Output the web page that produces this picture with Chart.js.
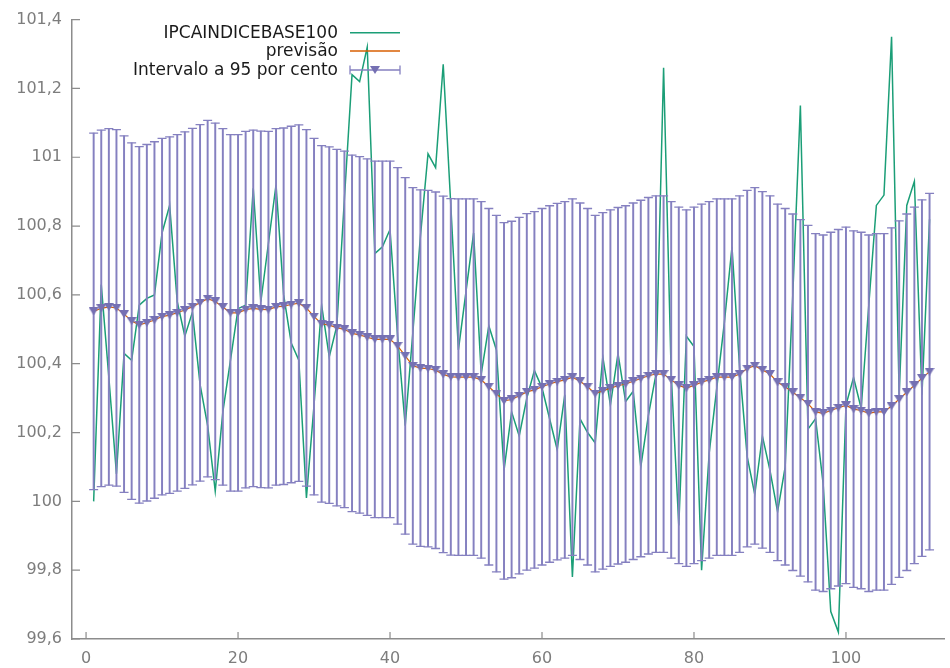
<!DOCTYPE html>
<html>
<head>
<meta charset="utf-8">
<script src="https://cdn.jsdelivr.net/npm/chart.js@4.4.0/dist/chart.umd.min.js"></script>
<style>
  html, body { margin: 0; padding: 0; background: #fff; }
  #wrap { width: 950px; height: 668px; }
</style>
</head>
<body>
<div id="wrap"><canvas id="forecastChart" width="950" height="668"></canvas></div>
<script>
// =====================
// Data
// =====================
const obs = [
  1, 2, 3, 4, 5, 6, 7, 8, 9, 10,
  11, 12, 13, 14, 15, 16, 17, 18, 19, 20,
  21, 22, 23, 24, 25, 26, 27, 28, 29, 30,
  31, 32, 33, 34, 35, 36, 37, 38, 39, 40,
  41, 42, 43, 44, 45, 46, 47, 48, 49, 50,
  51, 52, 53, 54, 55, 56, 57, 58, 59, 60,
  61, 62, 63, 64, 65, 66, 67, 68, 69, 70,
  71, 72, 73, 74, 75, 76, 77, 78, 79, 80,
  81, 82, 83, 84, 85, 86, 87, 88, 89, 90,
  91, 92, 93, 94, 95, 96, 97, 98, 99, 100,
  101, 102, 103, 104, 105, 106, 107, 108, 109, 110,
  111
];

const ipca = [
  100.00, 100.63, 100.36, 100.08, 100.43, 100.41, 100.57, 100.59, 100.60, 100.78,
  100.86, 100.58, 100.48, 100.55, 100.34, 100.22, 100.03, 100.26, 100.41, 100.56,
  100.57, 100.91, 100.58, 100.75, 100.92, 100.60, 100.46, 100.41, 100.01, 100.28,
  100.57, 100.42, 100.51, 100.88, 101.24, 101.22, 101.32, 100.72, 100.74, 100.79,
  100.48, 100.22, 100.49, 100.77, 101.01, 100.97, 101.27, 100.86, 100.44, 100.61,
  100.78, 100.37, 100.51, 100.44, 100.09, 100.26, 100.19, 100.30, 100.38, 100.33,
  100.24, 100.15, 100.31, 99.78, 100.24, 100.20, 100.17, 100.42, 100.28, 100.43,
  100.29, 100.32, 100.10, 100.25, 100.37, 101.26, 100.37, 99.93, 100.48, 100.45,
  99.80, 100.14, 100.33, 100.52, 100.74, 100.39, 100.13, 100.02, 100.19, 100.09,
  99.97, 100.10, 100.60, 101.15, 100.21, 100.24, 100.05, 99.68, 99.62, 100.28,
  100.36, 100.27, 100.57, 100.86, 100.89, 101.35, 100.31, 100.86, 100.93, 100.31,
  100.82
];

const previsao = [
  100.552, 100.561, 100.565, 100.562, 100.544, 100.524, 100.513, 100.519, 100.527, 100.537,
  100.541, 100.548, 100.556, 100.566, 100.577, 100.589, 100.581, 100.565, 100.548, 100.548,
  100.557, 100.561, 100.558, 100.557, 100.565, 100.567, 100.572, 100.576, 100.562, 100.537,
  100.516, 100.512, 100.505, 100.500, 100.488, 100.484, 100.477, 100.471, 100.471, 100.471,
  100.452, 100.423, 100.394, 100.387, 100.386, 100.381, 100.369, 100.362, 100.361, 100.361,
  100.361, 100.353, 100.333, 100.313, 100.292, 100.296, 100.307, 100.318, 100.324, 100.333,
  100.341, 100.348, 100.353, 100.361, 100.349, 100.333, 100.313, 100.321, 100.329, 100.336,
  100.341, 100.349, 100.357, 100.365, 100.370, 100.370, 100.353, 100.337, 100.329, 100.337,
  100.346, 100.353, 100.361, 100.361, 100.361, 100.370, 100.386, 100.394, 100.382, 100.370,
  100.346, 100.333, 100.317, 100.301, 100.284, 100.260, 100.256, 100.264, 100.272, 100.279,
  100.268, 100.264, 100.256, 100.260, 100.260, 100.277, 100.297, 100.317, 100.337, 100.358,
  100.377
];

const upper95 = [
  101.070, 101.079, 101.083, 101.080, 101.062, 101.042, 101.031, 101.037, 101.045, 101.055,
  101.059, 101.066, 101.074, 101.084, 101.095, 101.107, 101.099, 101.083, 101.066, 101.066,
  101.075, 101.079, 101.076, 101.075, 101.083, 101.085, 101.090, 101.094, 101.080, 101.055,
  101.034, 101.030, 101.023, 101.018, 101.006, 101.002, 100.995, 100.989, 100.989, 100.989,
  100.970, 100.941, 100.912, 100.905, 100.904, 100.899, 100.887, 100.880, 100.879, 100.879,
  100.879, 100.871, 100.851, 100.831, 100.810, 100.814, 100.825, 100.836, 100.842, 100.851,
  100.859, 100.866, 100.871, 100.879, 100.867, 100.851, 100.831, 100.839, 100.847, 100.854,
  100.859, 100.867, 100.875, 100.883, 100.888, 100.888, 100.871, 100.855, 100.847, 100.855,
  100.864, 100.871, 100.879, 100.879, 100.879, 100.888, 100.904, 100.912, 100.900, 100.888,
  100.864, 100.851, 100.835, 100.819, 100.802, 100.778, 100.774, 100.782, 100.790, 100.797,
  100.786, 100.782, 100.774, 100.778, 100.778, 100.795, 100.815, 100.835, 100.855, 100.876,
  100.895
];

const lower95 = [
  100.034, 100.043, 100.047, 100.044, 100.026, 100.006, 99.995, 100.001, 100.009, 100.019,
  100.023, 100.030, 100.038, 100.048, 100.059, 100.071, 100.063, 100.047, 100.030, 100.030,
  100.039, 100.043, 100.040, 100.039, 100.047, 100.049, 100.054, 100.058, 100.044, 100.019,
  99.998, 99.994, 99.987, 99.982, 99.970, 99.966, 99.959, 99.953, 99.953, 99.953,
  99.934, 99.905, 99.876, 99.869, 99.868, 99.863, 99.851, 99.844, 99.843, 99.843,
  99.843, 99.835, 99.815, 99.795, 99.774, 99.778, 99.789, 99.800, 99.806, 99.815,
  99.823, 99.830, 99.835, 99.843, 99.831, 99.815, 99.795, 99.803, 99.811, 99.818,
  99.823, 99.831, 99.839, 99.847, 99.852, 99.852, 99.835, 99.819, 99.811, 99.819,
  99.828, 99.835, 99.843, 99.843, 99.843, 99.852, 99.868, 99.876, 99.864, 99.852,
  99.828, 99.815, 99.799, 99.783, 99.766, 99.742, 99.738, 99.746, 99.754, 99.761,
  99.750, 99.746, 99.738, 99.742, 99.742, 99.759, 99.779, 99.799, 99.819, 99.840,
  99.859
];

const xTicks = [0, 20, 40, 60, 80, 100];
const yTicks = [99.6, 99.8, 100, 100.2, 100.4, 100.6, 100.8, 101, 101.2, 101.4];
const yTickLabels = ['99,6', '99,8', '100', '100,2', '100,4', '100,6', '100,8', '101', '101,2', '101,4'];
const seriesLabels = ['IPCAINDICEBASE100', 'previsão', 'Intervalo a 95 por cento'];

// =====================
// Styling
// =====================
const GREEN = '#1b9e77';
const ORANGE = '#d95f02';
const PURPLE = '#7570b3';
const BAR = '#8580c0';
const AXIS = '#8c8c8c';
const TICK_TEXT = '#7d7d7d';
const FONT = '"DejaVu Sans", Verdana, sans-serif';

const pts = (ys) => obs.map((x, i) => ({ x, y: ys[i] }));

// flat down-pointing triangle marker (gnuplot pt 11 look)
const makeTriangle = (w, h, color) => {
  const c = document.createElement('canvas');
  c.width = w; c.height = h;
  const g = c.getContext('2d');
  g.fillStyle = color;
  g.beginPath();
  g.moveTo(0, 0);
  g.lineTo(w, 0);
  g.lineTo(w / 2, h);
  g.closePath();
  g.fill();
  return c;
};
const triMarker = makeTriangle(10, 8, PURPLE);

// inward tick marks, gnuplot style
const innerTicks = {
  id: 'innerTicks',
  afterDraw(chart) {
    const { ctx, scales: { x, y }, chartArea } = chart;
    ctx.save();
    ctx.strokeStyle = AXIS;
    ctx.lineWidth = 1.2;
    ctx.beginPath();
    x.ticks.forEach(t => {
      const px = x.getPixelForValue(t.value);
      ctx.moveTo(px, chartArea.bottom);
      ctx.lineTo(px, chartArea.bottom - 7);
    });
    y.ticks.forEach(t => {
      const py = y.getPixelForValue(t.value);
      ctx.moveTo(chartArea.left, py);
      ctx.lineTo(chartArea.left + 8, py);
    });
    ctx.stroke();
    ctx.restore();
  }
};

// key in the top left, text right-aligned with samples on the right
const keyBox = {
  id: 'keyBox',
  afterDraw(chart) {
    const { ctx } = chart;
    const textRight = 338;
    const s0 = 350, s1 = 400;
    const rows = [32.7, 51, 70];
    ctx.save();
    ctx.font = '17px ' + FONT;
    ctx.fillStyle = '#1a1a1a';
    ctx.textAlign = 'right';
    ctx.textBaseline = 'middle';
    seriesLabels.forEach((txt, i) => ctx.fillText(txt, textRight, rows[i] + 1));

    ctx.lineWidth = 1.5;
    ctx.strokeStyle = GREEN;
    ctx.beginPath(); ctx.moveTo(s0, rows[0]); ctx.lineTo(s1, rows[0]); ctx.stroke();
    ctx.strokeStyle = ORANGE;
    ctx.beginPath(); ctx.moveTo(s0, rows[1]); ctx.lineTo(s1, rows[1]); ctx.stroke();

    ctx.strokeStyle = BAR;
    ctx.lineWidth = 1.3;
    ctx.beginPath();
    ctx.moveTo(s0, rows[2]); ctx.lineTo(s1, rows[2]);
    ctx.moveTo(s0, rows[2] - 4.5); ctx.lineTo(s0, rows[2] + 4.5);
    ctx.moveTo(s1, rows[2] - 4.5); ctx.lineTo(s1, rows[2] + 4.5);
    ctx.stroke();
    ctx.drawImage(triMarker, (s0 + s1) / 2 - 5, rows[2] - 4);
    ctx.restore();
  }
};

const ctx = document.getElementById('forecastChart').getContext('2d');
new Chart(ctx, {
  type: 'line',
  data: {
    datasets: [
      {
        label: seriesLabels[0],
        data: pts(ipca),
        borderColor: GREEN,
        borderWidth: 1.5,
        pointRadius: 0,
        tension: 0,
        order: 5
      },
      {
        label: seriesLabels[1],
        data: pts(previsao),
        borderColor: ORANGE,
        borderWidth: 1.2,
        pointRadius: 0,
        tension: 0,
        order: 4
      },
      {
        type: 'bar',
        label: seriesLabels[2],
        data: obs.map((x, i) => ({ x, y: [lower95[i], upper95[i]] })),
        backgroundColor: BAR,
        borderWidth: 0,
        barThickness: 1.3,
        grouped: false,
        order: 3
      },
      {
        label: 'cap-high',
        data: pts(upper95),
        showLine: false,
        pointStyle: 'line',
        pointRadius: 4.5,
        pointBorderWidth: 1.3,
        pointBorderColor: BAR,
        order: 2
      },
      {
        label: 'cap-low',
        data: pts(lower95),
        showLine: false,
        pointStyle: 'line',
        pointRadius: 4.5,
        pointBorderWidth: 1.3,
        pointBorderColor: BAR,
        order: 2
      },
      {
        label: 'centre',
        data: pts(previsao),
        showLine: false,
        pointStyle: triMarker,
        pointRadius: 5,
        order: 1
      }
    ]
  },
  options: {
    responsive: false,
    animation: false,
    events: [],
    layout: { padding: { top: 16, right: 0, left: 0, bottom: 0 } },
    plugins: {
      legend: { display: false },
      tooltip: { enabled: false }
    },
    scales: {
      x: {
        type: 'linear',
        min: -1.85,
        max: 112.9,
        offset: false,
        grid: { display: false, drawTicks: false },
        border: { display: true, color: AXIS, width: 1.5 },
        afterBuildTicks: s => { s.ticks = xTicks.map(v => ({ value: v })); },
        afterFit: s => { s.height = 29; },
        ticks: {
          color: TICK_TEXT,
          font: { family: FONT, size: 16 },
          padding: 10,
          maxRotation: 0,
          autoSkip: false
        }
      },
      y: {
        min: 99.6,
        max: 101.4,
        grid: { display: false, drawTicks: false },
        border: { display: true, color: AXIS, width: 1.5 },
        afterBuildTicks: s => { s.ticks = yTicks.map(v => ({ value: v })); },
        afterFit: s => { s.width = 72; },
        ticks: {
          color: TICK_TEXT,
          font: { family: FONT, size: 16 },
          padding: 10,
          autoSkip: false,
          callback: (v, i) => yTickLabels[i]
        }
      }
    }
  },
  plugins: [innerTicks, keyBox]
});
</script>
</body>
</html>
